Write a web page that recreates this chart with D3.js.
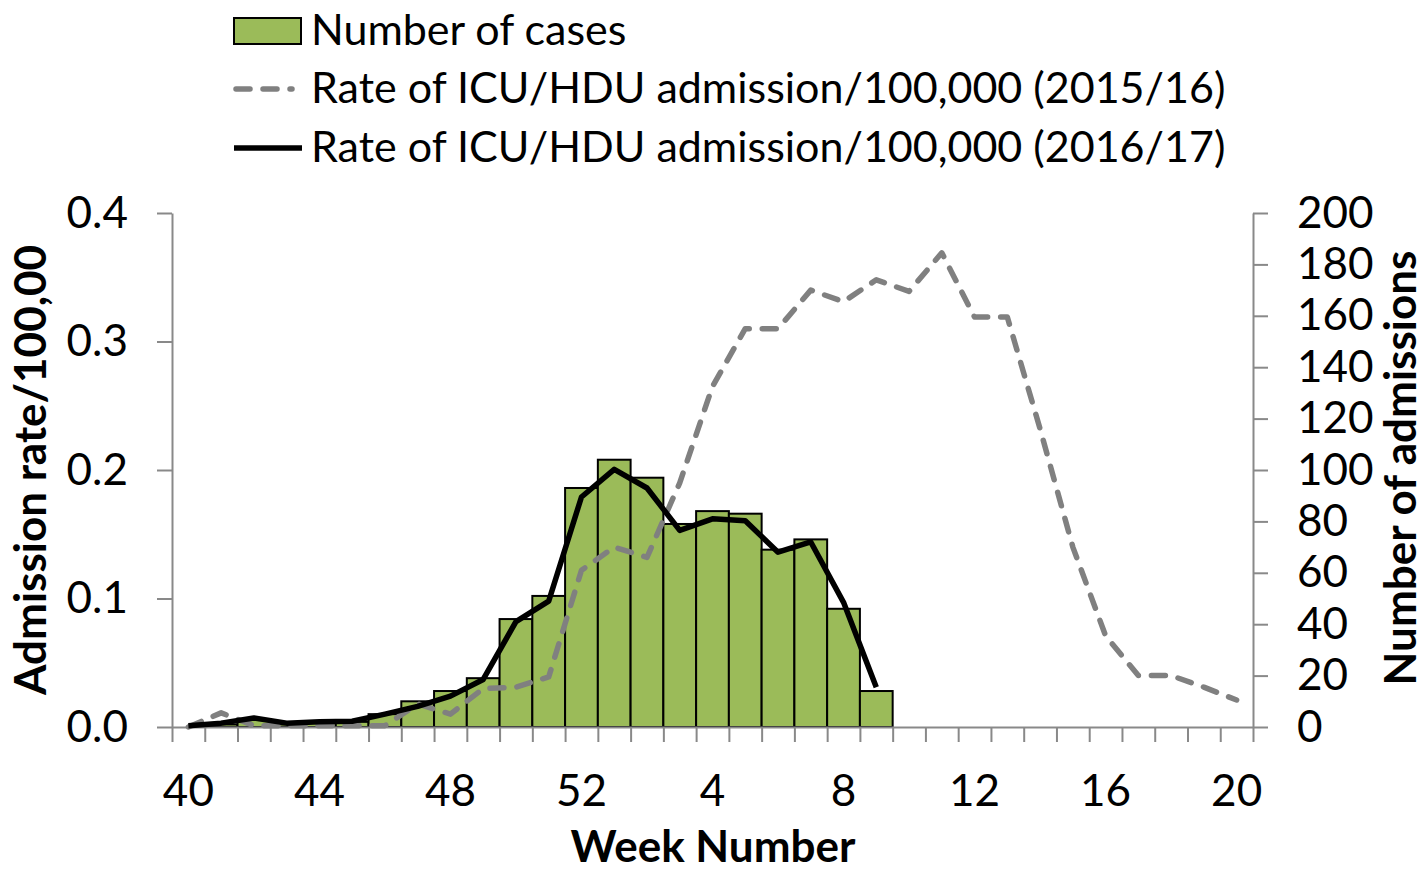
<!DOCTYPE html>
<html>
<head>
<meta charset="utf-8">
<script src="https://cdn.jsdelivr.net/npm/d3@7"></script>
<style>
  body { margin: 0; background: #fff; }
  text { font-family: Lato, "Liberation Sans", sans-serif; fill: #000; }
</style>
</head>
<body>
<svg id="chart" width="1428" height="872"></svg>
<script>
// Week labels (2016 week 40 through 2017 week 20)
const weeks = ["40","41","42","43","44","45","46","47","48","49","50","51","52",
  "1","2","3","4","5","6","7","8","9","10","11","12","13","14","15","16","17","18","19","20"];
const tickWeeks = ["40","44","48","52","4","8","12","16","20"];

// Number of cases (right axis), weeks 40..9
const cases = [0, 1, 3, 1, 2, 2, 5, 10, 14, 19, 42, 51, 93, 104, 97, 79, 84, 83, 69, 73, 46, 14];

// Rate of ICU/HDU admission per 100,000 (left axis)
const rate1617 = [0.001, 0.003, 0.007, 0.003, 0.004, 0.0045, 0.010, 0.016, 0.024, 0.037, 0.082, 0.098,
  0.179, 0.2005, 0.186, 0.153, 0.162, 0.1605, 0.136, 0.144, 0.097, 0.031];
const rate1516 = [0.000, 0.011, 0.001, 0.001, 0.001, 0.001, 0.001, 0.018, 0.010, 0.030, 0.031, 0.039,
  0.122, 0.140, 0.132, 0.190, 0.265, 0.310, 0.310, 0.340, 0.331, 0.348, 0.339, 0.369, 0.319, 0.319,
  0.232, 0.140, 0.071, 0.040, 0.040, 0.031, 0.021];

const leftTicks = [0, 0.1, 0.2, 0.3, 0.4];
const rightTicks = [0, 20, 40, 60, 80, 100, 120, 140, 160, 180, 200];

const svg = d3.select("#chart");
const axisColor = "#898989";

// Plot area
const plotLeft = 172, plotRight = 1253, plotTop = 213, plotBottom = 727;

const x = d3.scaleBand().domain(weeks).range([plotLeft, plotRight]).padding(0);
const xEdge = d3.scaleLinear().domain([0, weeks.length]).range([plotLeft, plotRight]);
const yL = d3.scaleLinear().domain([0, 0.4]).range([plotBottom, plotTop]);
const yR = d3.scaleLinear().domain([0, 200]).range([plotBottom, plotTop]);

// Bars: number of cases
svg.append("g")
  .selectAll("rect")
  .data(cases)
  .join("rect")
  .attr("x", (d, i) => x(weeks[i]))
  .attr("y", d => yR(d))
  .attr("width", x.bandwidth())
  .attr("height", d => yR(0) - yR(d))
  .attr("fill", "#9BBB59")
  .attr("stroke", "#000")
  .attr("stroke-width", 2);

// Axes
function styleAxis(g) {
  g.selectAll("path, line").attr("stroke", axisColor).attr("stroke-width", 2);
  g.selectAll("text").attr("font-size", 44).attr("fill", "#000")
    .style("font-family", "Lato, 'Liberation Sans', sans-serif");
}

svg.append("g")
  .attr("transform", `translate(${plotLeft},0)`)
  .call(d3.axisLeft(yL).tickValues(leftTicks).tickFormat(d3.format(".1f"))
    .tickSize(15).tickSizeOuter(0).tickPadding(29))
  .call(styleAxis);

svg.append("g")
  .attr("transform", `translate(${plotRight},0)`)
  .call(d3.axisRight(yR).tickValues(rightTicks).tickSize(15).tickSizeOuter(0).tickPadding(29))
  .call(styleAxis);

// X axis: ticks at band edges, labels every 4 weeks
svg.append("g")
  .attr("transform", `translate(0,${plotBottom})`)
  .call(d3.axisBottom(xEdge).tickValues(d3.range(0, weeks.length + 1)).tickFormat("")
    .tickSize(15).tickSizeOuter(0))
  .call(styleAxis);

svg.append("g")
  .attr("transform", `translate(0,${plotBottom})`)
  .call(d3.axisBottom(x).tickValues(tickWeeks).tickSize(0).tickPadding(48))
  .call(g => g.select(".domain").remove())
  .call(styleAxis);

// Lines
const line = d3.line()
  .x((d, i) => x(weeks[i]) + x.bandwidth() / 2)
  .y(d => yL(d));

svg.append("path")
  .datum(rate1516)
  .attr("d", line)
  .attr("fill", "none")
  .attr("stroke", "#808080")
  .attr("stroke-width", 5.5)
  .attr("stroke-dasharray", "14,13")
  .attr("stroke-linecap", "round")
  .attr("stroke-linejoin", "round");

svg.append("path")
  .datum(rate1617)
  .attr("d", line)
  .attr("fill", "none")
  .attr("stroke", "#000")
  .attr("stroke-width", 5.5)
  .attr("stroke-linejoin", "round");

// Axis titles
svg.append("text")
  .attr("transform", "translate(46,470) rotate(-90)")
  .attr("text-anchor", "middle")
  .attr("font-size", 44)
  .attr("font-weight", "bold")
  .text("Admission rate/100,00");

svg.append("text")
  .attr("transform", "translate(1416,468) rotate(-90)")
  .attr("text-anchor", "middle")
  .attr("font-size", 44)
  .attr("font-weight", "bold")
  .text("Number of admissions");

svg.append("text")
  .attr("x", 713)
  .attr("y", 862)
  .attr("text-anchor", "middle")
  .attr("font-size", 44)
  .attr("font-weight", "bold")
  .text("Week Number");

// Legend
const legend = svg.append("g");
legend.append("rect")
  .attr("x", 234).attr("y", 18).attr("width", 67).attr("height", 26)
  .attr("fill", "#9BBB59").attr("stroke", "#000").attr("stroke-width", 2);
legend.append("text").attr("x", 311).attr("y", 45).attr("font-size", 43).text("Number of cases");

legend.append("line")
  .attr("x1", 236).attr("x2", 292).attr("y1", 89).attr("y2", 89)
  .attr("stroke", "#808080").attr("stroke-width", 5.5)
  .attr("stroke-dasharray", "14,13").attr("stroke-linecap", "round");
legend.append("text").attr("x", 311).attr("y", 103).attr("font-size", 43)
  .text("Rate of ICU/HDU admission/100,000 (2015/16)");

legend.append("line")
  .attr("x1", 234).attr("x2", 302).attr("y1", 148).attr("y2", 148)
  .attr("stroke", "#000").attr("stroke-width", 5.5);
legend.append("text").attr("x", 311).attr("y", 162).attr("font-size", 43)
  .text("Rate of ICU/HDU admission/100,000 (2016/17)");
</script>
</body>
</html>
